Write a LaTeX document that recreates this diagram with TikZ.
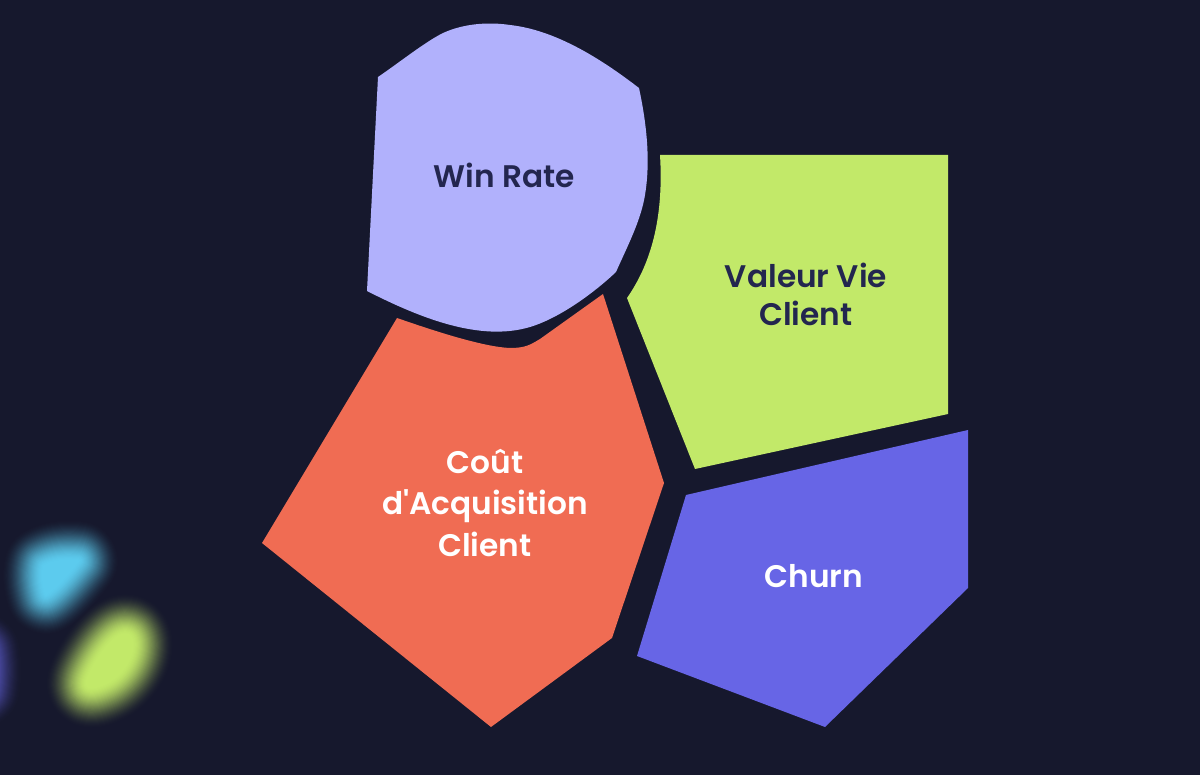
\documentclass[tikz,border=0pt]{standalone}
\usepackage{fontspec}
\setmainfont{Poppins}[Ligatures=TeXOff, BoldFont={Poppins SemiBold}]
\definecolor{bgdark}{HTML}{16182D}
\definecolor{periwinkle}{HTML}{B1B1FC}
\definecolor{limegreen}{HTML}{C2E969}
\definecolor{coral}{HTML}{F06C53}
\definecolor{indigo}{HTML}{6765E6}
\definecolor{skyblue}{HTML}{5CCBEE}
\definecolor{inkblue}{HTML}{23264F}
\tikzset{
    darklabel/.style={text=inkblue, align=center, font=\fontsize{31.2}{38}\selectfont\bfseries},
    lightlabel/.style={text=white, align=center, font=\fontsize{31.2}{41.5}\selectfont\bfseries},
    glow/.style={line join=round, draw=#1, fill=#1}
}
\begin{document}
\begin{tikzpicture}[x=1pt, y=-1pt]
    % Background
    \fill[bgdark] (0, 0) rectangle (1200, 775);
    \useasboundingbox (0, 0) rectangle (1200, 775);

    % Blurred spots on the left
    \begin{scope}
        \clip (0, 0) rectangle (1200, 775);
        \foreach \s in {0,...,40} {
            \pgfmathsetmacro{\t}{\s/40}
            \pgfmathsetmacro{\mix}{100*\t*\t*(3-2*\t)}
            \pgfmathsetmacro{\w}{84*(1-\t)}
            \draw[glow=skyblue!\mix!bgdark, line width=\w pt]
                (44, 566) .. controls (55, 560) and (68, 560) .. (78, 561)
                .. controls (68, 574) and (54, 590) .. (46, 594)
                .. controls (43, 585) and (42, 574) .. (44, 566) -- cycle;
            \draw[glow=limegreen!\mix!bgdark, line width=\w pt]
                (130, 636) .. controls (138, 645) and (128, 675) .. (102, 685)
                .. controls (90, 690) and (84, 688) .. (88, 678)
                .. controls (94, 662) and (118, 626) .. (130, 636) -- cycle;
            \draw[glow=indigo!\mix!bgdark, line width=\w pt]
                (-30, 652) -- (-20, 652) .. controls (-18, 665) and (-18, 675) .. (-20, 688)
                -- (-30, 688) -- cycle;
        }
    \end{scope}

    % Win Rate shape
    \fill[periwinkle] (378, 77) .. controls (400, 62) and (425, 42) .. (443, 33)
        .. controls (465, 23) and (490, 22) .. (510, 25)
        .. controls (555, 30) and (600, 58) .. (639, 88)
        .. controls (648, 130) and (650, 165) .. (645, 195)
        .. controls (641, 220) and (628, 245) .. (616, 272)
        .. controls (595, 292) and (560, 318) .. (530, 327)
        .. controls (480, 342) and (420, 318) .. (367, 291) -- cycle;
    \node[darklabel] (winrate) at (504, 175) {Win Rate};

    % Valeur Vie Client shape
    \fill[limegreen] (660, 155) -- (948, 155) -- (948, 414) -- (695, 469) -- (627, 298)
        .. controls (650, 265) and (664, 220) .. (660, 155) -- cycle;
    \node[darklabel] (valeur) at (806, 294) {Valeur Vie\\Client};

    % Cout d'Acquisition Client shape
    \fill[coral] (397, 318) .. controls (440, 333) and (485, 347) .. (510, 348)
        .. controls (525, 348) and (530, 345) .. (540, 339)
        -- (603, 294) -- (664, 483) -- (612, 638) -- (491, 727) -- (262, 543) -- cycle;
    \node[lightlabel] (cout) at (485, 503) {Coût\\d'Acquisition\\Client};

    % Churn shape
    \fill[indigo] (686, 495) -- (968, 430) -- (968, 588) -- (825, 727) -- (637, 656) -- cycle;
    \node[lightlabel] (churn) at (814, 576) {Churn};
\end{tikzpicture}
\end{document}
